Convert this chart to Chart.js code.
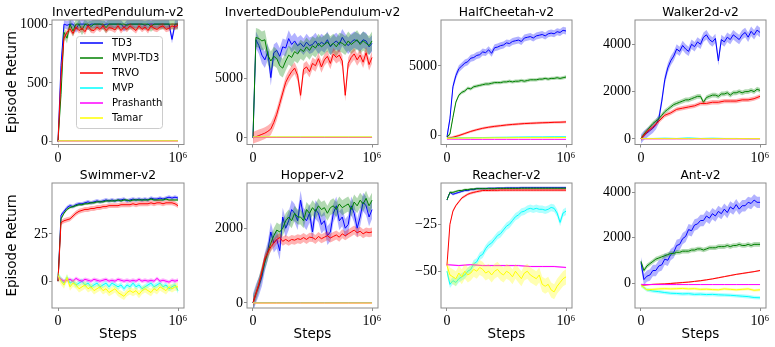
<!DOCTYPE html>
<html>
<head>
<meta charset="utf-8">
<script src="https://cdn.jsdelivr.net/npm/chart.js@4.4.0/dist/chart.umd.min.js"></script>
<style>
  html, body { margin: 0; padding: 0; background: #fff; }
  #wrap { position: relative; width: 775px; height: 347px; overflow: hidden; }
  #wrap canvas { position: absolute; }
</style>
</head>
<body>
<div id="wrap"></div>
<script>
"use strict";

// ---------- data (evenly spaced over 0..1e6 steps) ----------
const METHODS = ["TD3", "MVPI-TD3", "TRVO", "MVP", "Prashanth", "Tamar"];
const X_TICKS = [0, 1000000];

// InvertedPendulum-v2
const IP_TD3 = [0, 650, 1000, 990, 1000, 1000, 960, 1000, 1000, 1000,
  985, 1000, 1000, 1000, 1000, 990, 1000, 1000, 1000, 1000,
  1000, 1000, 970, 1000, 1000, 1000, 1000, 1000, 1000, 990,
  1000, 1000, 1000, 1000, 1000, 1000, 1000, 1000, 870, 1000, 1000];
const IP_MVPI = [0, 400, 930, 880, 1000, 940, 1000, 1000, 950, 1000,
  1000, 980, 1000, 1000, 1000, 1000, 970, 1000, 1000, 1000,
  1000, 1000, 1000, 990, 1000, 1000, 1000, 1000, 1000, 1000,
  1000, 980, 1000, 1000, 1000, 1000, 1000, 1000, 1000, 1000, 1000];
const IP_TRVO = [0, 550, 880, 930, 960, 920, 975, 945, 965, 935,
  985, 950, 945, 975, 955, 985, 945, 970, 965, 950,
  985, 945, 975, 955, 985, 965, 945, 985, 955, 975,
  945, 985, 965, 955, 975, 985, 955, 965, 985, 975, 990];
const IP_MVP = [8, 7, 8, 7, 8, 8];
const IP_PRA = [5, 5, 5, 5, 5, 5];
const IP_TAM = [6, 6, 6, 6, 6, 6];
const IP_BAND = [35, 45, 25, 3, 2, 3];
const IP_YTICKS = [0, 500, 1000];

// InvertedDoublePendulum-v2
const IDP_TD3 = [0, 8300, 7800, 7000, 6600, 7300, 5100, 7200, 7400, 6900,
  7700, 7600, 8400, 7900, 8200, 7800, 8000, 7700, 8100, 7800,
  7900, 8200, 7800, 8100, 7900, 8300, 7700, 8000, 8200, 7900,
  8500, 8100, 7800, 8100, 8300, 8200, 8000, 8300, 8200, 7700, 8000];
const IDP_MVPI = [0, 8500, 8400, 8200, 8300, 7000, 6500, 6900, 6700, 6100,
  5900, 6500, 7000, 6800, 7300, 7100, 7500, 7300, 7700, 7400,
  7800, 7600, 8000, 7700, 7900, 8100, 7800, 8000, 7700, 8100,
  8000, 7800, 8200, 7900, 8100, 8300, 7900, 8200, 8000, 7800, 8200];
const IDP_TRVO = [0, 100, 200, 300, 400, 550, 750, 1300, 2000, 2900,
  3800, 4700, 5200, 5600, 5900, 5300, 3600, 5800, 6000, 5600,
  6300, 6100, 6700, 6000, 6600, 6900, 6300, 7100, 6800, 7000,
  6500, 3600, 6300, 6800, 7100, 6600, 7000, 6400, 7200, 6200, 6800];
const IDP_MVP = [60, 60, 60, 60, 60, 60];
const IDP_PRA = [40, 40, 40, 40, 40, 40];
const IDP_TAM = [80, 80, 80, 80, 80, 80];
const IDP_BAND = [700, 800, 500, 20, 20, 20];
const IDP_YTICKS = [0, 5000];

// HalfCheetah-v2
const HC_TD3 = [-100, 1200, 3500, 4300, 4800, 5000, 5200, 5300, 5550, 5600,
  5750, 5800, 6000, 5950, 6150, 5900, 6300, 6350, 6450, 6500,
  6650, 6600, 6750, 6800, 6850, 6750, 7000, 7050, 7100, 7000,
  7150, 7200, 7250, 7150, 7300, 7350, 7300, 7450, 7400, 7550, 7500];
const HC_MVPI = [-100, 100, 1300, 2400, 2900, 3100, 3200, 3400, 3350, 3500,
  3550, 3600, 3650, 3700, 3700, 3750, 3800, 3800, 3800, 3850,
  3850, 3900, 3850, 3900, 3900, 3950, 3900, 3950, 4000, 4000,
  4000, 4050, 4050, 4100, 4050, 4100, 4100, 4150, 4100, 4150, 4200];
const HC_TRVO = [-200, -120, 0, 150, 300, 420, 520, 600, 660, 710,
  760, 800, 830, 860, 880, 900, 920, 930, 950, 960, 980];
const HC_MVP = [-200, -160, -150, -140, -130, -120, -110, -100, -100, -90, -90];
const HC_PRA = [-250, -260, -270, -270, -270, -270, -270, -270, -270, -270, -270];
const HC_TAM = [-200, -180, -170, -170, -160, -160, -150, -150, -150, -150, -140];
const HC_BAND = [250, 120, 90, 40, 10, 40];
const HC_YTICKS = [0, 5000];

// Walker2d-v2
const W_TD3 = [0, 150, 250, 350, 450, 600, 850, 1600, 2500, 3000,
  3300, 3500, 3800, 3700, 3950, 3800, 3700, 4000, 3900, 4100,
  4000, 4300, 4400, 4200, 4100, 4250, 3300, 4200, 4100, 4300,
  4200, 4400, 4300, 4200, 4400, 4500, 4300, 4550, 4400, 4600, 4500];
const W_MVPI = [0, 200, 350, 500, 650, 750, 850, 1000, 1150, 1250,
  1350, 1450, 1500, 1550, 1600, 1650, 1650, 1700, 1750, 1800,
  1800, 1550, 1750, 1800, 1850, 1850, 1800, 1900, 1900, 1950,
  1850, 1950, 1950, 2000, 1950, 2000, 2000, 2050, 2000, 2100, 2050];
const W_TRVO = [0, 300, 500, 750, 1000, 1100, 1250, 1300, 1350, 1400,
  1500, 1500, 1550, 1550, 1600, 1600, 1600, 1650, 1650, 1700, 1800];
const W_MVP = [20, 20, 30, 20, 40, 20, 30, 20, 20, 10, 10];
const W_PRA = [0, 0, 0, 0, 0, 0, 0, 0, 0, 0, 0];
const W_TAM = [10, 10, 10, 10, 10, 10, 10, 10, 10, 10, 10];
const W_BAND = [200, 100, 90, 15, 5, 5];
const W_YTICKS = [0, 2000, 4000];

// Swimmer-v2
const S_TD3 = [0, 35, 37, 39, 40, 39.5, 40.5, 41, 41, 41.5,
  42, 41.5, 42, 42.5, 42, 42.5, 43, 42.5, 43, 42.5,
  43, 43, 43.5, 42.5, 43, 43.5, 43, 43.5, 43, 43.5,
  43, 44, 43.5, 43.5, 44, 43.5, 44, 44.5, 44, 44.5, 44];
const S_MVPI = [0, 33, 36, 38, 39, 39.5, 40, 40.5, 40.5, 41,
  41, 41.5, 41.5, 42, 42, 42, 42.5, 42.5, 42.5, 42.5,
  43, 42.5, 43, 43, 42.5, 43, 43, 43, 43, 43,
  43, 43.5, 43, 43, 43, 43, 43.5, 43, 43, 43, 43];
const S_TRVO = [0, 31, 32, 32.5, 33, 34.5, 36, 37, 37.5, 38,
  38, 38.5, 38.5, 39, 39, 39.5, 39.5, 40, 40, 40,
  40, 40.5, 40.5, 40.5, 40.5, 41, 40.5, 41, 41, 41,
  41, 41.5, 41, 41.5, 41.5, 41, 41.5, 41.5, 41.5, 41, 40];
const S_MVP = [3, 1, -1, 2, -1, 0, -2, -1, 0, -2,
  -1, -3, -2, -1, -3, -2, -1, -3, -1, -2,
  -3, -2, -4, -2, -3, -1, -3, -2, -4, -3,
  -2, -1, -3, -2, -1, -3, -2, -4, -3, -2, -5];
const S_PRA = [2, 1, 0, 0.5, 1, 0, 1.5, 0.5, 0, 1,
  0.5, 0, 1, 0.5, 0, 0.5, 1, 0, 0.5, 0,
  1, 0.5, 0, 0.5, 0, 0.5, 0, 1, 0, 0.5,
  0, 0.5, 0, 1.5, 0, 0.5, 0, -0.5, 0.5, 0, 0.5];
const S_TAM = [3, 0, -2, 2, -3, -1, -2, -4, -3, -2,
  -4, -3, -5, -4, -3, -5, -4, -6, -5, -4,
  -6, -7, -8, -6, -5, -6, -5, -7, -5, -4,
  -5, -6, -4, -5, -3, -4, -5, -3, -4, -3, -3];
const S_BAND = [1, 0.7, 1.3, 1.5, 1, 2];
const S_YTICKS = [0, 25];

// Hopper-v2
const H_TD3 = [0, 250, 450, 700, 1100, 1400, 1900, 1600, 1700, 1400,
  2300, 2000, 2200, 2500, 2400, 2200, 2750, 2300, 2200, 2400,
  1900, 2500, 2400, 2100, 2200, 1800, 1900, 2400, 2600, 2200,
  2300, 2000, 2100, 2600, 2400, 2000, 2300, 2700, 2600, 2300, 2500];
const H_MVPI = [0, 250, 500, 800, 1100, 1350, 1600, 1800, 1950, 1900,
  2000, 2200, 2300, 2200, 2400, 2300, 2300, 2200, 2500, 2400,
  2550, 2450, 2600, 2500, 2550, 2400, 2550, 2600, 2500, 2650,
  2550, 2600, 2650, 2500, 2700, 2600, 2750, 2650, 2800, 2600, 2750];
const H_TRVO = [0, 250, 500, 850, 1200, 1350, 1500, 1600, 1700, 1750,
  1650, 1700, 1650, 1700, 1680, 1720, 1700, 1750, 1700, 1760,
  1750, 1700, 1780, 1720, 1760, 1800, 1740, 1780, 1820, 1760,
  1850, 1800, 1850, 1900, 1950, 1880, 1920, 1850, 1900, 1880, 1900];
const H_MVP = [12, 12, 12, 12, 12, 12];
const H_PRA = [0, 0, 0, 0, 0, 0];
const H_TAM = [0, 0, 0, 0, 0, 0];
const H_BAND = [250, 200, 120, 8, 4, 4];
const H_YTICKS = [0, 2000];

// Reacher-v2
const R_TD3 = [-12, -8, -9, -8.5, -8, -7.5, -7, -7, -6.5, -6.5,
  -6, -6, -6, -6, -5.8, -5.8, -5.8, -5.7, -5.7, -5.7,
  -5.6, -5.6, -5.6, -5.6, -5.6, -5.5, -5.5, -5.5, -5.5, -5.5,
  -5.5, -5.5, -5.5, -5.5, -5.5, -5.5, -5.5, -5.5, -5.5, -5.5, -5.5];
const R_MVPI = [-12, -8, -8, -7.5, -7, -7, -6.5, -6.5, -6.2, -6.2,
  -6, -6, -6, -6, -6, -6, -6, -5.9, -5.9, -5.9,
  -5.9, -5.9, -5.9, -5.9, -5.9, -5.8, -5.8, -5.8, -5.8, -5.8,
  -5.8, -5.8, -5.8, -5.8, -5.8, -5.8, -5.8, -5.8, -5.8, -5.8, -5.8];
const R_TRVO = [-47, -25, -18, -15, -13, -11, -10, -9, -8.4, -8,
  -7.6, -7.3, -7, -7, -7, -6.9, -6.9, -6.9, -6.8, -6.8,
  -6.8, -6.8, -6.8, -6.8, -6.8, -6.8, -6.8, -6.8, -6.8, -6.8,
  -6.8, -6.8, -6.8, -6.8, -6.8, -6.8, -6.8, -6.8, -6.8, -6.8, -6.8];
const R_MVP = [-50, -57, -55, -56, -54, -53, -52, -50, -49, -46,
  -45, -42, -41, -38, -36, -35, -33, -31, -30, -28,
  -26, -25, -23, -21, -20, -18.5, -18, -17, -16.5, -17,
  -16.5, -17, -17, -17.5, -17, -16, -16.5, -19, -24, -19, -18];
const R_PRA = [-46.5, -47, -46.5, -47, -47, -47, -47, -47.5, -47.5, -47.5, -48];
const R_TAM = [-47, -52, -53, -54, -51, -53, -50, -52, -51, -49,
  -50, -48, -49, -51, -50, -52, -50, -49, -51, -52,
  -50, -51, -53, -50, -52, -54, -51, -50, -52, -53,
  -54, -52, -57, -58, -57, -60, -61, -58, -56, -54, -53];
const R_BAND = [0.6, 0.6, 0.7, 2, 0.4, 4];
const R_YTICKS = [-50, -25];

// Ant-v2
const A_TD3 = [900, 150, 300, 350, 550, 550, 750, 800, 1050, 1000,
  1250, 1350, 1650, 1700, 1950, 2050, 2350, 2300, 2550, 2600,
  2750, 2750, 2950, 2850, 3050, 2950, 3150, 3050, 3250, 3100,
  3350, 3250, 3450, 3250, 3400, 3400, 3550, 3500, 3650, 3550, 3550];
const A_MVPI = [950, 550, 750, 850, 950, 1050, 1100, 1150, 1200, 1250,
  1300, 1300, 1350, 1350, 1400, 1400, 1400, 1450, 1450, 1500,
  1500, 1450, 1500, 1550, 1550, 1550, 1600, 1600, 1600, 1650,
  1600, 1650, 1650, 1700, 1650, 1650, 1700, 1650, 1700, 1700, 1700];
const A_TRVO = [-100, -80, -60, -50, -40, -20, 0, 20, 40, 70,
  100, 140, 180, 230, 280, 330, 380, 420, 460, 500, 550];
const A_MVP = [-100, -300, -350, -380, -420, -450, -460, -480, -470, -500,
  -490, -510, -500, -520, -530, -540, -560, -580, -600, -640, -650];
const A_PRA = [-60, -70, -70, -70, -70, -70, -70, -70, -70, -70, -70];
const A_TAM = [-100, -300, -280, -260, -250, -260, -250, -240, -260, -250,
  -280, -270, -290, -300, -260, -280, -300, -280, -260, -320, -300];
const A_BAND = [250, 100, 30, 80, 10, 60];
const A_YTICKS = [0, 2000, 4000];

// ---------- panels ----------
const PANELS = [
  { title: "InvertedPendulum-v2", s: [IP_TD3, IP_MVPI, IP_TRVO, IP_MVP, IP_PRA, IP_TAM], band: IP_BAND, yMin: -25, yMax: 1035, yTicks: IP_YTICKS, row: 0, col: 0, legend: true },
  { title: "InvertedDoublePendulum-v2", s: [IDP_TD3, IDP_MVPI, IDP_TRVO, IDP_MVP, IDP_PRA, IDP_TAM], band: IDP_BAND, yMin: -560, yMax: 9970, yTicks: IDP_YTICKS, row: 0, col: 1 },
  { title: "HalfCheetah-v2", s: [HC_TD3, HC_MVPI, HC_TRVO, HC_MVP, HC_PRA, HC_TAM], band: HC_BAND, yMin: -640, yMax: 8290, yTicks: HC_YTICKS, row: 0, col: 2 },
  { title: "Walker2d-v2", s: [W_TD3, W_MVPI, W_TRVO, W_MVP, W_PRA, W_TAM], band: W_BAND, yMin: -236, yMax: 5027, yTicks: W_YTICKS, row: 0, col: 3 },
  { title: "Swimmer-v2", s: [S_TD3, S_MVPI, S_TRVO, S_MVP, S_PRA, S_TAM], band: S_BAND, yMin: -14.2, yMax: 52, yTicks: S_YTICKS, row: 1, col: 0 },
  { title: "Hopper-v2", s: [H_TD3, H_MVPI, H_TRVO, H_MVP, H_PRA, H_TAM], band: H_BAND, yMin: -134, yMax: 3210, yTicks: H_YTICKS, row: 1, col: 1 },
  { title: "Reacher-v2", s: [R_TD3, R_MVPI, R_TRVO, R_MVP, R_PRA, R_TAM], band: R_BAND, yMin: -69.6, yMax: -3, yTicks: R_YTICKS, row: 1, col: 2 },
  { title: "Ant-v2", s: [A_TD3, A_MVPI, A_TRVO, A_MVP, A_PRA, A_TAM], band: A_BAND, yMin: -1100, yMax: 4400, yTicks: A_YTICKS, row: 1, col: 3 },
];

// ---------- layout / style ----------
const COLORS = ["#0000ff", "#008000", "#ff0000", "#00ffff", "#ff00ff", "#ffff00"];
const COLS = [
  { left: 0,   axis: 52, plot: 132, right: 14 },
  { left: 197, axis: 50, plot: 131, right: 28 },
  { left: 391, axis: 50, plot: 131, right: 14 },
  { left: 585, axis: 50, plot: 131, right: 9 },
];
const ROWS = [
  { top: 0,   head: 20, plot: 124.5, foot: 23.5, base: 4.5 },
  { top: 160, head: 23, plot: 125,   foot: 39,   base: 4.5 },
];
const FRAME = "#8c8c8c";
const TICK_FONT = { family: "'Liberation Serif', 'DejaVu Serif', serif", size: 14 };
const SANS = "'DejaVu Sans', sans-serif";
const NONE = "rgba(0,0,0,0)";

function rgba(hex, a) {
  const n = parseInt(hex.slice(1), 16);
  return `rgba(${(n >> 16) & 255},${(n >> 8) & 255},${n & 255},${a})`;
}
function pts(arr, off) {
  const step = 1e6 / (arr.length - 1);
  return arr.map((y, i) => ({ x: i * step, y: y + off }));
}
const fmtY = v => (v < 0 ? "\u2212" + (-v) : String(v));
const fmtX = v => (v === 0 ? "0" : "10\u2076");

// frame round the plot area (matplotlib spines) and the panel title above it
const framePlugin = {
  id: "frame",
  afterDraw(chart, args, opts) {
    const { ctx, chartArea: a } = chart;
    ctx.save();
    ctx.strokeStyle = FRAME;
    ctx.lineWidth = 1;
    ctx.strokeRect(a.left, a.top, a.right - a.left, a.bottom - a.top);
    ctx.fillStyle = "#000";
    ctx.font = "12.3px " + SANS;
    ctx.textAlign = "center";
    ctx.textBaseline = "alphabetic";
    ctx.fillText(opts.title, (a.left + a.right) / 2, a.top - opts.base);
    ctx.restore();
  }
};

// boxed legend inside the first panel
const legendPlugin = {
  id: "boxLegend",
  afterDraw(chart, args, opts) {
    if (!opts.show) return;
    const ctx = chart.ctx;
    const x = 76, y = 36, w = 86, h = 92;
    ctx.save();
    ctx.beginPath();
    ctx.roundRect(x + 0.5, y + 0.5, w, h, 3);
    ctx.fillStyle = "rgba(255,255,255,0.8)";
    ctx.fill();
    ctx.strokeStyle = "#cccccc";
    ctx.lineWidth = 1;
    ctx.stroke();
    ctx.font = "10px " + SANS;
    ctx.textBaseline = "middle";
    METHODS.forEach((m, k) => {
      const yy = y + 7 + k * 15;
      ctx.beginPath();
      ctx.moveTo(x + 4, yy);
      ctx.lineTo(x + 27, yy);
      ctx.strokeStyle = COLORS[k];
      ctx.lineWidth = 1.5;
      ctx.stroke();
      ctx.fillStyle = "#000";
      ctx.fillText(m, x + 36, yy);
    });
    ctx.restore();
  }
};

// ---------- build ----------
const wrap = document.getElementById("wrap");

PANELS.forEach(p => {
  const col = COLS[p.col], row = ROWS[p.row];
  const W = col.axis + col.plot + col.right;
  const H = Math.round(row.head + row.plot + row.foot);
  const cv = document.createElement("canvas");
  cv.width = W; cv.height = H;
  cv.style.left = col.left + "px"; cv.style.top = row.top + "px";
  cv.style.width = W + "px"; cv.style.height = H + "px";
  wrap.appendChild(cv);

  const datasets = [];
  p.s.forEach((arr, k) => {
    const c = COLORS[k], ord = (6 - k) * 10;
    datasets.push({ data: pts(arr, p.band[k]), borderWidth: 0, borderColor: NONE, pointRadius: 0,
      fill: "+1", backgroundColor: rgba(c, 0.3), order: ord + 1 });
    datasets.push({ data: pts(arr, -p.band[k]), borderWidth: 0, borderColor: NONE, pointRadius: 0,
      fill: false, backgroundColor: NONE, order: ord + 1 });
    datasets.push({ label: METHODS[k], data: pts(arr, 0), borderColor: c, backgroundColor: c,
      borderWidth: 1, pointRadius: 0, fill: false, order: ord });
  });

  new Chart(cv, {
    type: "line",
    data: { datasets },
    plugins: [framePlugin, legendPlugin],
    options: {
      responsive: false, animation: false, devicePixelRatio: 1, events: [],
      layout: { padding: { left: 0, top: row.head, right: col.right, bottom: 0 } },
      elements: { line: { tension: 0 } },
      plugins: {
        colors: { enabled: false },
        legend: { display: false },
        tooltip: { enabled: false },
        title: { display: false },
        frame: { title: p.title, base: row.base },
        boxLegend: { show: !!p.legend }
      },
      scales: {
        x: {
          type: "linear", min: -50000, max: 1050000,
          afterBuildTicks: s => { s.ticks = X_TICKS.map(v => ({ value: v })); },
          afterFit: s => { s.height = row.foot; },
          ticks: { font: TICK_FONT, color: "#000", padding: 2, maxRotation: 0, callback: fmtX },
          grid: { display: true, drawOnChartArea: false, drawTicks: true, tickLength: 3, color: FRAME },
          border: { display: false },
          title: { display: p.row === 1, text: "Steps", color: "#000",
            font: { family: SANS, size: 13.5 }, padding: { top: 0, bottom: 4 } }
        },
        y: {
          type: "linear", min: p.yMin, max: p.yMax,
          afterBuildTicks: s => { s.ticks = p.yTicks.map(v => ({ value: v })); },
          afterFit: s => { s.width = col.axis; },
          ticks: { font: TICK_FONT, color: "#000", padding: 1, callback: fmtY },
          grid: { display: true, drawOnChartArea: false, drawTicks: true, tickLength: 3, color: FRAME },
          border: { display: false },
          title: { display: p.col === 0, text: "Episode Return", color: "#000",
            font: { family: SANS, size: 13.5 }, padding: { top: 4, bottom: 0 } }
        }
      }
    }
  });
});
</script>
</body>
</html>
